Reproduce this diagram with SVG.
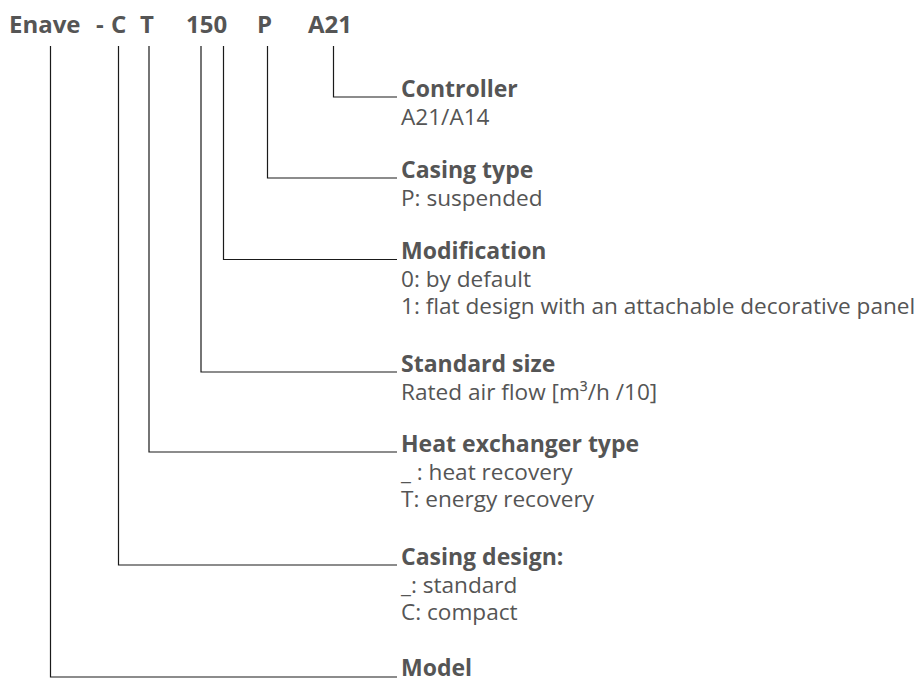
<svg xmlns="http://www.w3.org/2000/svg" width="924" height="680" viewBox="0 0 924 680">
<style>
text{font-family:"Open Sans","Noto Sans","Liberation Sans",sans-serif;fill:#555}
.t{font-size:24px;font-weight:bold}
.h{font-size:23px;font-weight:bold}
.d{font-size:22.6px;font-weight:normal}
.c{fill:none;stroke:#1a1a1a;stroke-width:1.2}
</style>
<rect width="924" height="680" fill="#fff"/>
<g id="title">
<text class="t" y="33"><tspan x="9">Enave</tspan><tspan x="96">-</tspan><tspan x="111">C</tspan><tspan x="140">T</tspan><tspan x="186">150</tspan><tspan x="257">P</tspan><tspan x="308">A21</tspan></text>
</g>
<g id="connectors">
<polyline class="c" points="333.5,46 333.5,97 397,97"/>
<polyline class="c" points="267.5,46 267.5,178 397,178"/>
<polyline class="c" points="223.5,46 223.5,259.5 397,259.5"/>
<polyline class="c" points="201,46 201,372 397,372"/>
<polyline class="c" points="149,46 149,452 397,452"/>
<polyline class="c" points="118.5,46 118.5,565 397,565"/>
<polyline class="c" points="50.5,46 50.5,677 397,677"/>
</g>
<g id="controller">
<text class="h" x="401" y="97">Controller</text>
<text class="d" x="401" y="125">A21/A14</text>
</g>
<g id="casing-type">
<text class="h" x="401" y="178">Casing type</text>
<text class="d" x="401" y="206">P: suspended</text>
</g>
<g id="modification">
<text class="h" x="401" y="259">Modification</text>
<text class="d" x="401" y="287">0: by default</text>
<text class="d" x="401" y="314">1: flat design with an attachable decorative panel</text>
</g>
<g id="standard-size">
<text class="h" x="401" y="372">Standard size</text>
<text class="d" x="401" y="400">Rated air flow [m³/h /10]</text>
</g>
<g id="heat-exchanger">
<text class="h" x="401" y="452">Heat exchanger type</text>
<text class="d" x="401" y="480">_ : heat recovery</text>
<text class="d" x="401" y="507">T: energy recovery</text>
</g>
<g id="casing-design">
<text class="h" x="401" y="565">Casing design:</text>
<text class="d" x="401" y="593">_: standard</text>
<text class="d" x="401" y="620">C: compact</text>
</g>
<g id="model">
<text class="h" x="401" y="676">Model</text>
</g>
</svg>
